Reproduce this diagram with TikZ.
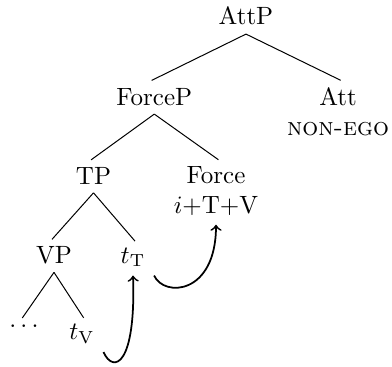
\documentclass[tikz,border=0pt]{standalone}
\begin{document}
\begin{tikzpicture}[x=0.4pt,y=-0.4pt,
  lbl/.style={inner sep=3.33pt},
  edge/.style={shorten >=-1.2pt},
  mv/.style={->,line width=0.7pt}]
\useasboundingbox (0,0) rectangle (392,366);
\node[lbl,anchor=base] (attp) at (246,25) {AttP};
\node[lbl,anchor=base] (forcep) at (154.3,105) {ForceP};
\node[lbl,anchor=north,align=center] (att) at (338,79) {Att\\\textsc{non-ego}};
\node[lbl,anchor=base] (tp) at (93.5,184) {TP};
\node[lbl,anchor=north,align=center] (force) at (216,158) {Force\\$i$+T+V};
\node[lbl,anchor=base] (vp) at (54,263) {VP};
\node[lbl,anchor=base] (tt) at (133,263) {$t_{\mathrm{T}}$};
\node[lbl,anchor=base] (dots) at (24,327) {$\dots$};
\node[lbl,anchor=base] (tv) at (82,339.5) {$t_{\mathrm{V}}$};
\draw[edge] (attp.south) -- (forcep.north);
\draw[edge] (attp.south) -- (att.north);
\draw[edge] (forcep.south) -- (tp.north);
\draw[edge] (forcep.south) -- (force.north);
\draw[edge] (tp.south) -- (vp.north);
\draw[edge] (tp.south) -- (tt.north);
\draw[edge] (vp.south) -- (dots.north);
\draw[edge] (vp.south) -- (tv.north);
\draw[mv] (tv.south east) .. controls +(10,22) and +(3,90) .. (tt.south);
\draw[mv] (tt.south east) .. controls +(10,22) and +(0,70) .. (force.south);
\end{tikzpicture}
\end{document}
